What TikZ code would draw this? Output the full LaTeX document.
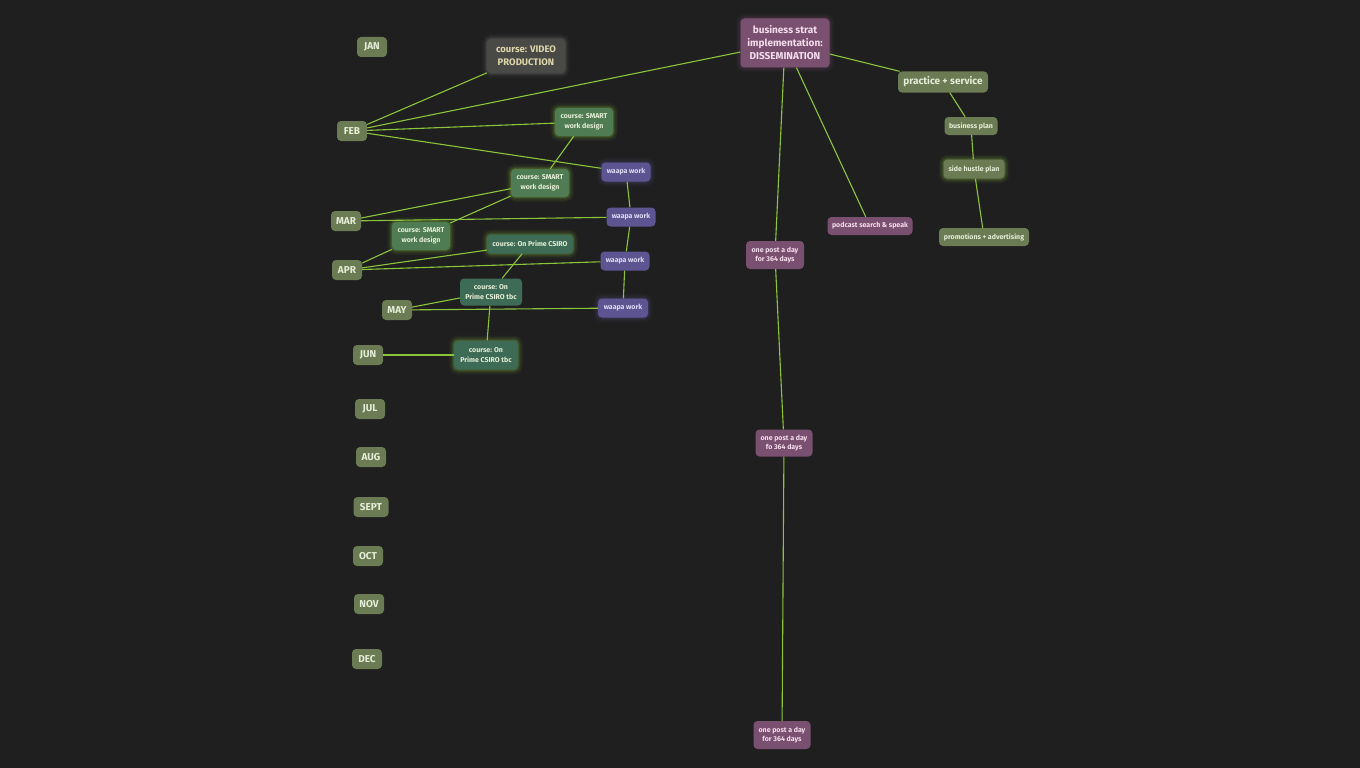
\documentclass[tikz,border=0pt]{standalone}
\usepackage{fontspec}
\setmainfont{Fira Sans}
\usepackage{tikz}
\usetikzlibrary{positioning}
\definecolor{bgcol}{HTML}{1F1F1F}
\definecolor{linkcol}{HTML}{8CC43C}
\definecolor{monthcol}{HTML}{6B7B54}
\definecolor{monthtxt}{HTML}{E4EDD6}
\definecolor{smartcol}{HTML}{4F7C52}
\definecolor{csirocol}{HTML}{3E6B55}
\definecolor{videocol}{HTML}{494946}
\definecolor{videotxt}{HTML}{DCD6AA}
\definecolor{waapacol}{HTML}{5C5591}
\definecolor{waapatxt}{HTML}{DEDAF4}
\definecolor{mauvecol}{HTML}{7A5070}
\definecolor{mauvetxt}{HTML}{F4DDEC}
\tikzstyle{box}=[rounded corners=4pt,inner sep=1pt,align=center,text=monthtxt,font=\bfseries\fontsize{7}{9.5}\selectfont]
\tikzstyle{month}=[box,fill=monthcol,minimum width=30pt,minimum height=20pt,font=\bfseries\fontsize{10}{11}\selectfont]
\tikzstyle{smart}=[box,fill=smartcol,minimum width=58pt,minimum height=28pt]
\tikzstyle{csiro}=[box,fill=csirocol,minimum width=62pt,minimum height=27pt]
\tikzstyle{waapa}=[box,fill=waapacol,text=waapatxt,minimum width=49pt,minimum height=19pt]
\tikzstyle{mauve}=[box,fill=mauvecol,text=mauvetxt,minimum height=28pt]
\tikzstyle{plan}=[box,fill=monthcol,minimum height=18pt]
\tikzstyle{link}=[draw=linkcol,line width=1.1pt]
\tikzset{glow/.style={preaction={draw=#1,line width=10pt,opacity=0.05},
  preaction={draw=#1,line width=7pt,opacity=0.08},
  preaction={draw=#1,line width=4pt,opacity=0.12},
  preaction={draw=#1,line width=2pt,opacity=0.15}}}

\begin{document}
\begin{tikzpicture}[x=1pt,y=-1pt]
\fill[bgcol] (0,0) rectangle (1360,768);
\useasboundingbox (0,0) rectangle (1360,768);

% months
\node[month] (jan) at (372,47) {JAN};
\node[month] (feb) at (352,131) {FEB};
\node[month] (mar) at (346,221) {MAR};
\node[month] (apr) at (347,270) {APR};
\node[month] (may) at (397,310) {MAY};
\node[month] (jun) at (368,355) {JUN};
\node[month] (jul) at (370,409) {JUL};
\node[month] (aug) at (371,457) {AUG};
\node[month,minimum width=35pt] (sept) at (371,507) {SEPT};
\node[month] (oct) at (368,556) {OCT};
\node[month] (nov) at (369,604) {NOV};
\node[month] (dec) at (367,659) {DEC};

% courses
\node[box,fill=videocol,text=videotxt,glow=gray,minimum width=78pt,minimum height=34pt,
  font=\bfseries\fontsize{9.5}{13}\selectfont] (video) at (526,56) {course: VIDEO\\PRODUCTION};
\node[smart,glow=linkcol] (smarta) at (584,122) {course: SMART\\work design};
\node[smart,glow=linkcol] (smartb) at (540,183) {course: SMART\\work design};
\node[smart,glow=linkcol] (smartc) at (421,236) {course: SMART\\work design};
\node[csiro,glow=linkcol,minimum width=86pt,minimum height=19pt] (csiro) at (530,244) {course: On Prime CSIRO};
\node[csiro] (tbca) at (491,292) {course: On\\Prime CSIRO tbc};
\node[csiro,glow=linkcol,minimum width=64pt,minimum height=29pt] (tbcb) at (486,355) {course: On\\Prime CSIRO tbc};

% waapa
\node[waapa,glow=waapacol] (waapaa) at (626,172) {waapa work};
\node[waapa] (waapab) at (631,217) {waapa work};
\node[waapa] (waapac) at (625,261) {waapa work};
\node[waapa,glow=waapacol,minimum width=50pt] (waapad) at (623,308) {waapa work};

% dissemination
\node[mauve,glow=mauvecol,minimum width=89pt,minimum height=49pt,
  font=\bfseries\fontsize{10}{13}\selectfont] (strat) at (785,43) {business strat\\implementation:\\DISSEMINATION};
\node[plan,minimum width=90pt,minimum height=21pt,font=\bfseries\fontsize{10}{11}\selectfont] (practice) at (943,82) {practice + service};
\node[plan,minimum width=53pt] (bplan) at (971,126) {business plan};
\node[plan,glow=linkcol,minimum width=61pt,minimum height=19pt] (hustle) at (974,169) {side hustle plan};
\node[plan,minimum width=90pt] (promo) at (984,237) {promotions + advertising};
\node[mauve,minimum width=85pt,minimum height=18pt] (podcast) at (870,226) {podcast search \& speak};
\node[mauve,minimum width=58pt] (posta) at (775,255) {one post a day\\for 364 days};
\node[mauve,minimum width=57pt,minimum height=27pt] (postb) at (784,443) {one post a day\\fo 364 days};
\node[mauve,minimum width=57pt] (postc) at (782,735) {one post a day\\for 364 days};

% links
\draw[link] (feb) -- (video);
\draw[link] (feb) -- (strat);
\draw[link] (feb) -- (smarta);
\draw[link] (feb) -- (waapaa);
\draw[link] (smarta) -- (smartb);
\draw[link] (mar) -- (smartb);
\draw[link] (mar) -- (waapab);
\draw[link] (smartb) -- (smartc);
\draw[link] (apr) -- (smartc);
\draw[link] (apr) -- (csiro);
\draw[link] (apr) -- (waapac);
\draw[link] (csiro) -- (tbca);
\draw[link] (may) -- (tbca);
\draw[link] (may) -- (waapad);
\draw[link] (tbca) -- (tbcb);
\draw[link] (jun) -- (tbcb);
\draw[link] (waapaa) -- (waapab) -- (waapac) -- (waapad);
\draw[link] (strat) -- (practice);
\draw[link] (practice) -- (bplan) -- (hustle) -- (promo);
\draw[link] (strat) -- (podcast);
\draw[link] (strat) -- (posta) -- (postb) -- (postc);
\end{tikzpicture}
\end{document}
